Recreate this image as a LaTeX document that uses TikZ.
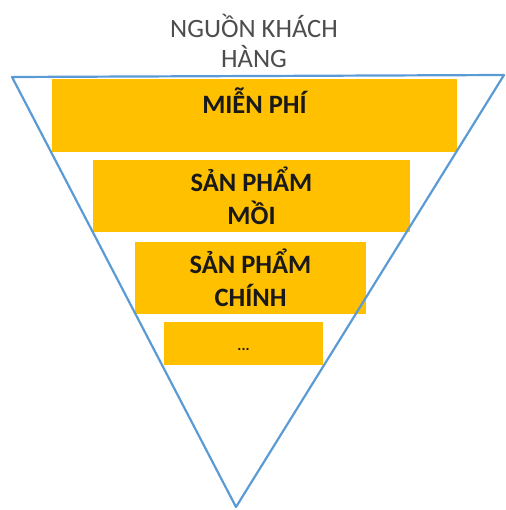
\documentclass[tikz,border=0pt]{standalone}
\usepackage{fontspec}
\setmainfont{Carlito}
\usetikzlibrary{positioning}
\definecolor{funnelblue}{HTML}{5B9BD5}
\definecolor{boxgold}{HTML}{FFC000}
\definecolor{titlegray}{HTML}{4D4D4D}
\begin{document}
\begin{tikzpicture}[x=1pt,y=-1pt,
    box/.style={fill=boxgold, draw=none, inner sep=0pt},
    boxtext/.style={align=center, text=black!90, font=\fontsize{26.5}{33}\selectfont\bfseries}]
    \useasboundingbox (0,0) rectangle (505,510);

    % title
    \node[align=center, text=titlegray, font=\fontsize{26.5}{30}\selectfont] (title) at (254,41) {NGUỒN KHÁCH\\HÀNG};

    % funnel
    \coordinate (tl) at (12,77);
    \coordinate (tr) at (504,75);
    \coordinate (apex) at (236,507);

    % levels
    \node[box, minimum width=405pt, minimum height=73pt] (free) at (254.5,115.5) {};
    \node[boxtext, below=5pt of free.north] (freetxt) {MIỄN PHÍ};
    \node[box, minimum width=317pt, minimum height=72pt] (bait) at (251.5,196) {};
    \node[boxtext] (baittxt) at (bait.center) {SẢN PHẨM\\MỒI};
    \node[box, minimum width=231pt, minimum height=72pt] (main) at (250.5,278) {};
    \node[boxtext] (maintxt) at (main.center) {SẢN PHẨM\\CHÍNH};
    \node[box, minimum width=159pt, minimum height=43pt] (more) at (243.5,343.5) {};
    \node[boxtext, font=\fontsize{15}{20}\selectfont\bfseries] (moretxt) at ([yshift=-6pt]more.center) {...};

    \draw[funnelblue, line width=2.2pt, line join=round] (tl) -- (tr) -- (apex) -- cycle;

\end{tikzpicture}
\end{document}
